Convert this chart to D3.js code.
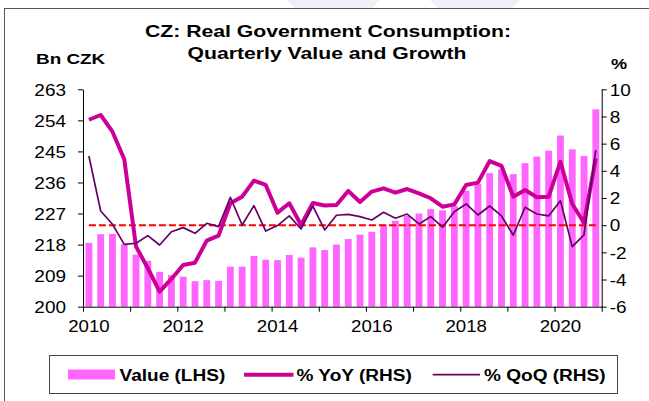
<!DOCTYPE html>
<html>
<head>
<meta charset="utf-8">
<script src="https://cdn.jsdelivr.net/npm/d3@7"></script>
<style>
  body { margin: 0; background: #fff; }
  svg { display: block; font-family: Arial, "Liberation Sans", sans-serif; }
</style>
</head>
<body>
<script>
// quarters 2010Q1 .. 2020Q4
var quarters = [
  "2010Q1","2010Q2","2010Q3","2010Q4","2011Q1","2011Q2","2011Q3","2011Q4",
  "2012Q1","2012Q2","2012Q3","2012Q4","2013Q1","2013Q2","2013Q3","2013Q4",
  "2014Q1","2014Q2","2014Q3","2014Q4","2015Q1","2015Q2","2015Q3","2015Q4",
  "2016Q1","2016Q2","2016Q3","2016Q4","2017Q1","2017Q2","2017Q3","2017Q4",
  "2018Q1","2018Q2","2018Q3","2018Q4","2019Q1","2019Q2","2019Q3","2019Q4",
  "2020Q1","2020Q2","2020Q3","2020Q4"
];

// Bn CZK (LHS)
var value = [218.5, 221.0, 221.1, 218.1, 215.1, 213.3, 210.1, 209.2, 208.7, 207.4, 207.7, 207.5,
  211.6, 211.6, 214.7, 213.6, 213.5, 215.0, 214.2, 217.2, 216.4, 218.0, 219.6, 220.9,
  221.7, 223.8, 224.9, 226.3, 227.0, 228.3, 227.9, 229.2, 233.6, 235.5, 238.7, 239.8,
  238.4, 241.6, 243.5, 245.2, 249.6, 245.6, 243.7, 257.2];

// % YoY (RHS)
var yoy = [7.76, 8.11, 6.88, 4.85, -1.58, -3.17, -4.89, -3.96, -2.93, -2.76, -1.14, -0.77,
  1.61, 2.10, 3.28, 2.96, 0.92, 1.61, 0.01, 1.63, 1.45, 1.49, 2.52, 1.71,
  2.47, 2.71, 2.39, 2.66, 2.34, 1.98, 1.36, 1.53, 2.96, 3.13, 4.72, 4.36,
  2.10, 2.59, 2.05, 2.10, 4.67, 1.56, 0.18, 4.92];

// % QoQ (RHS)
var qoq = [5.09, 1.04, 0.07, -1.41, -1.33, -0.77, -1.46, -0.48, -0.18, -0.60, 0.14, -0.11,
  2.05, 0.01, 1.44, -0.43, -0.03, 0.68, -0.28, 1.41, -0.35, 0.73, 0.80, 0.63,
  0.38, 0.95, 0.51, 0.82, 0.09, 0.63, -0.15, 0.99, 1.56, 0.75, 1.41, 0.68,
  -0.74, 1.32, 0.82, 0.68, 1.80, -1.58, -0.72, 5.53];

var leftTicks = [200, 209, 218, 227, 236, 245, 254, 263];
var rightTicks = [-6, -4, -2, 0, 2, 4, 6, 8, 10];
var yearLabels = ["2010", "2012", "2014", "2016", "2018", "2020"];

var W = 649, H = 401;
var plot = {left: 83, right: 601.7, top: 89.3, bottom: 306.7};

var svg = d3.select("body").append("svg")
    .attr("width", W)
    .attr("height", H);

// faint background shapes and outer frame
svg.append("path")
    .attr("d", "M287,0 L380,0 L372,8 L295,8 Z M430,0 L520,0 L512,8 L438,8 Z")
    .attr("fill", "#eef0f8");
svg.append("rect")
    .attr("x", 4.5).attr("y", 8.5)
    .attr("width", 700).attr("height", 500)
    .attr("fill", "none")
    .attr("stroke", "#555")
    .attr("stroke-width", 1);

var x = d3.scaleBand()
    .domain(quarters)
    .range([plot.left, plot.right])
    .paddingInner(0.42)
    .paddingOuter(0.21);

var xi = d3.scaleLinear().domain([0, quarters.length]).range([plot.left, plot.right]);

var yL = d3.scaleLinear().domain([200, 263]).range([plot.bottom, plot.top]);
var yR = d3.scaleLinear().domain([-6, 10]).range([plot.bottom, plot.top]);

function cx(i) { return x(quarters[i]) + x.bandwidth() / 2; }

function label(g, px, py, str, size, weight, anchor, sx) {
  return g.append("text")
    .attr("transform", "translate(" + px + "," + py + ") scale(" + sx + ",1)")
    .attr("text-anchor", anchor)
    .attr("font-size", size + "px")
    .attr("font-weight", weight)
    .attr("fill", "#000")
    .text(str);
}

// bars
svg.append("g").selectAll("rect")
  .data(value)
  .enter().append("rect")
    .attr("x", function(d, i) { return x(quarters[i]); })
    .attr("y", function(d) { return yL(d); })
    .attr("width", x.bandwidth())
    .attr("height", function(d) { return yL(200) - yL(d); })
    .attr("fill", "#ff66ff");

// zero line on RHS
svg.append("line")
    .attr("x1", cx(0)).attr("x2", cx(quarters.length - 1))
    .attr("y1", yR(0)).attr("y2", yR(0))
    .attr("stroke", "#ff0000")
    .attr("stroke-width", 2)
    .attr("stroke-dasharray", "7,3");

var line = function(arr) {
  return d3.line()
    .x(function(d, i) { return cx(i); })
    .y(function(d) { return yR(d); })(arr);
};

svg.append("path")
    .attr("d", line(yoy))
    .attr("fill", "none")
    .attr("stroke", "#cc0099")
    .attr("stroke-width", 4)
    .attr("stroke-linejoin", "round");

svg.append("path")
    .attr("d", line(qoq))
    .attr("fill", "none")
    .attr("stroke", "#660066")
    .attr("stroke-width", 1.7)
    .attr("stroke-linejoin", "round");

// axes
var plain = function(d) { return String(d); };

var gl = svg.append("g")
    .attr("transform", "translate(" + plot.left + ",0)")
    .call(d3.axisLeft(yL).tickValues(leftTicks).tickFormat(plain).tickSize(5).tickSizeOuter(0));
gl.selectAll("text")
    .attr("x", null).attr("dy", "0.35em")
    .attr("transform", "translate(-17,0) scale(1.15,1)")
    .attr("font-size", "16.5px").attr("font-family", "Arial, 'Liberation Sans', sans-serif")
    .attr("fill", "#000");

var gr = svg.append("g")
    .attr("transform", "translate(" + plot.right + ",0)")
    .call(d3.axisRight(yR).tickValues(rightTicks).tickFormat(plain).tickSize(5).tickSizeOuter(0));
gr.selectAll("text")
    .attr("x", null).attr("dy", "0.35em")
    .attr("transform", "translate(8,0) scale(1.15,1)")
    .attr("font-size", "16.5px").attr("font-family", "Arial, 'Liberation Sans', sans-serif")
    .attr("fill", "#000");

var yearTicks = d3.range(0, quarters.length + 1, 4);
var gb = svg.append("g")
    .attr("transform", "translate(0," + plot.bottom + ")")
    .call(d3.axisBottom(xi).tickValues(yearTicks).tickSize(5).tickSizeOuter(0).tickFormat(""));

[gl, gr, gb].forEach(function(g) {
  g.select(".domain").attr("stroke", "#000");
  g.selectAll(".tick line").attr("stroke", "#000");
});

yearLabels.forEach(function(yr) {
  label(svg, cx(quarters.indexOf(yr + "Q1")), 332, yr, 16.5, "normal", "middle", 1.13);
});

// titles
label(svg, 328, 37, "CZ: Real Government Consumption:", 16.3, "bold", "middle", 1.3);
label(svg, 327, 59, "Quarterly Value and Growth", 16.3, "bold", "middle", 1.3);
label(svg, 36, 64, "Bn CZK", 15.5, "bold", "start", 1.22);
label(svg, 611, 68.5, "%", 15.5, "bold", "start", 1.17);

// legend
var lg = svg.append("g");
lg.append("rect")
    .attr("x", 49.5).attr("y", 355.5)
    .attr("width", 568).attr("height", 38)
    .attr("fill", "#fff")
    .attr("stroke", "#444")
    .attr("stroke-width", 1);
lg.append("rect")
    .attr("x", 68).attr("y", 369.5)
    .attr("width", 47).attr("height", 10)
    .attr("fill", "#ff66ff");
label(lg, 119.5, 380.5, "Value (LHS)", 16, "bold", "start", 1.19);
lg.append("line")
    .attr("x1", 244).attr("x2", 293.5).attr("y1", 374.7).attr("y2", 374.7)
    .attr("stroke", "#cc0099").attr("stroke-width", 4);
label(lg, 296.5, 380.5, "% YoY (RHS)", 16, "bold", "start", 1.19);
lg.append("line")
    .attr("x1", 432.7).attr("x2", 480).attr("y1", 374.7).attr("y2", 374.7)
    .attr("stroke", "#660066").attr("stroke-width", 1.7);
label(lg, 484, 380.5, "% QoQ (RHS)", 16, "bold", "start", 1.19);
</script>
</body>
</html>
